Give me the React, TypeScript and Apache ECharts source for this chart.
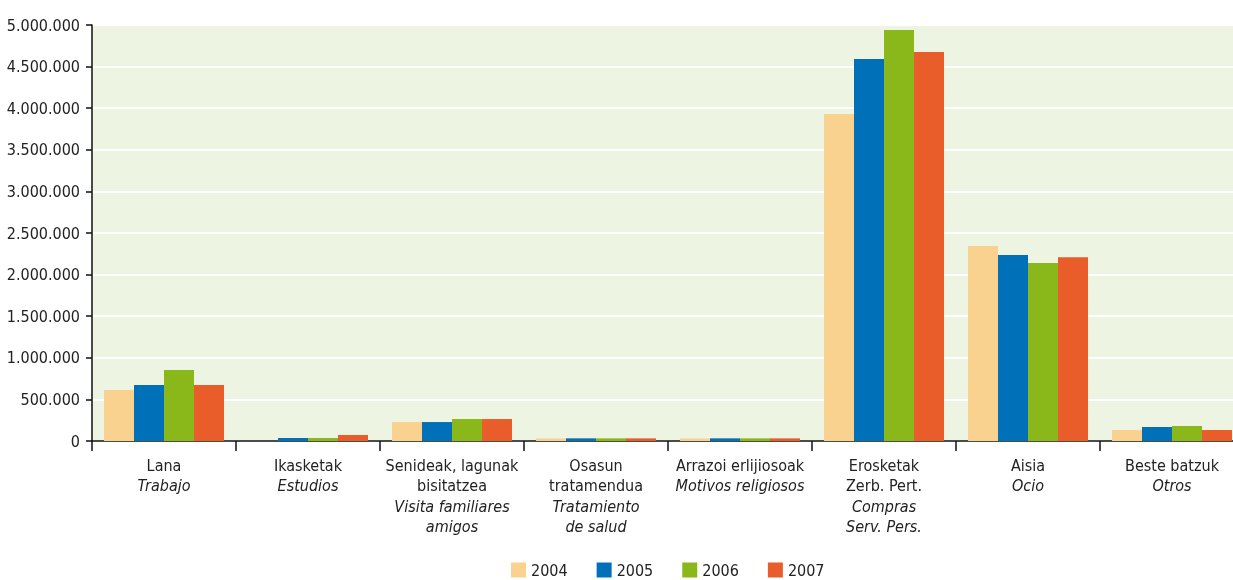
import React, { useEffect, useRef } from "react";
import * as echarts from "echarts";

const categoriesEu = ["Lana", "Ikasketak", "Senideak, lagunak\nbisitatzea", "Osasun\ntratamendua", "Arrazoi erlijiosoak", "Erosketak\nZerb. Pert.", "Aisia", "Beste batzuk"];
const categoriesEs = ["Trabajo", "Estudios", "Visita familiares\namigos", "Tratamiento\nde salud", "Motivos religiosos", "Compras\nServ. Pers.", "Ocio", "Otros"];
const years = ["2004", "2005", "2006", "2007"];
const values2004 = [612000, 0, 228000, 30000, 30000, 3930000, 2344000, 132000];
const values2005 = [673000, 36000, 228000, 32000, 32000, 4590000, 2236000, 168000];
const values2006 = [853000, 36000, 264000, 32000, 32000, 4940000, 2140000, 180000];
const values2007 = [673000, 72000, 264000, 32000, 32000, 4675000, 2210000, 132000];
const colors = ["#FAD28F", "#0070B8", "#8AB81A", "#E85D2A"];

const FONT = "'DejaVu Sans Condensed', 'Liberation Sans Narrow', sans-serif";

export default function App() {
  const ref = useRef<HTMLDivElement>(null);
  useEffect(() => {
    if (!ref.current) return;
    const chart = echarts.init(ref.current, null, { renderer: "svg" });
    const seriesData = [values2004, values2005, values2006, values2007];
    const catKeys = categoriesEu.map((_, i) => String(i));
    chart.setOption({
      animation: false,
      textStyle: { fontFamily: FONT },
      color: colors,
      grid: {
        left: 92,
        top: 25,
        width: 1152,
        height: 416,
        show: true,
        backgroundColor: "#EEF4E2",
        borderWidth: 0,
      },
      legend: {
        left: 506,
        top: 557,
        itemWidth: 15,
        itemHeight: 15,
        itemGap: 29,
        icon: "rect",
        textStyle: { fontFamily: FONT, fontSize: 16, color: "#222" },
        data: years,
      },
      xAxis: {
        type: "category",
        data: catKeys,
        axisLine: { lineStyle: { color: "#111", width: 1.5 } },
        axisTick: { show: true, interval: 0, length: 10, lineStyle: { color: "#111", width: 1.5 } },
        axisLabel: {
          interval: 0,
          margin: 14,
          formatter: (v: string) => {
            const i = Number(v);
            const eu = categoriesEu[i].split("\n").map((s) => `{a|${s}}`).join("\n");
            const es = categoriesEs[i].split("\n").map((s) => `{b|${s}}`).join("\n");
            return eu + "\n" + es;
          },
          rich: {
            a: { fontFamily: FONT, fontSize: 16, color: "#222", lineHeight: 20.5 },
            b: { fontFamily: FONT, fontSize: 16, color: "#222", fontStyle: "italic", lineHeight: 20.5 },
          },
        },
      },
      yAxis: {
        type: "value",
        min: 0,
        max: 5000000,
        interval: 500000,
        axisLine: { show: true, lineStyle: { color: "#111", width: 1.5 } },
        axisTick: { show: true, length: 6, lineStyle: { color: "#111", width: 1.5 } },
        splitLine: { lineStyle: { color: "#FFFFFF", width: 2 } },
        axisLabel: {
          margin: 12,
          fontFamily: FONT,
          fontSize: 16,
          color: "#222",
          formatter: (v: number) => String(Math.round(v)).replace(/\B(?=(\d{3})+(?!\d))/g, "."),
        },
      },
      series: years.map((y, k) => ({
        name: y,
        type: "bar",
        data: seriesData[k],
        barWidth: 30,
        barGap: "0%",
        itemStyle: { color: colors[k] },
      })),
    });
    return () => chart.dispose();
  }, []);
  return (
    <div style={{ position: "fixed", left: 0, top: 0, width: 1233, height: 580, overflow: "hidden" }}>
      <div ref={ref} style={{ width: 1245, height: 580 }} />
    </div>
  );
}
